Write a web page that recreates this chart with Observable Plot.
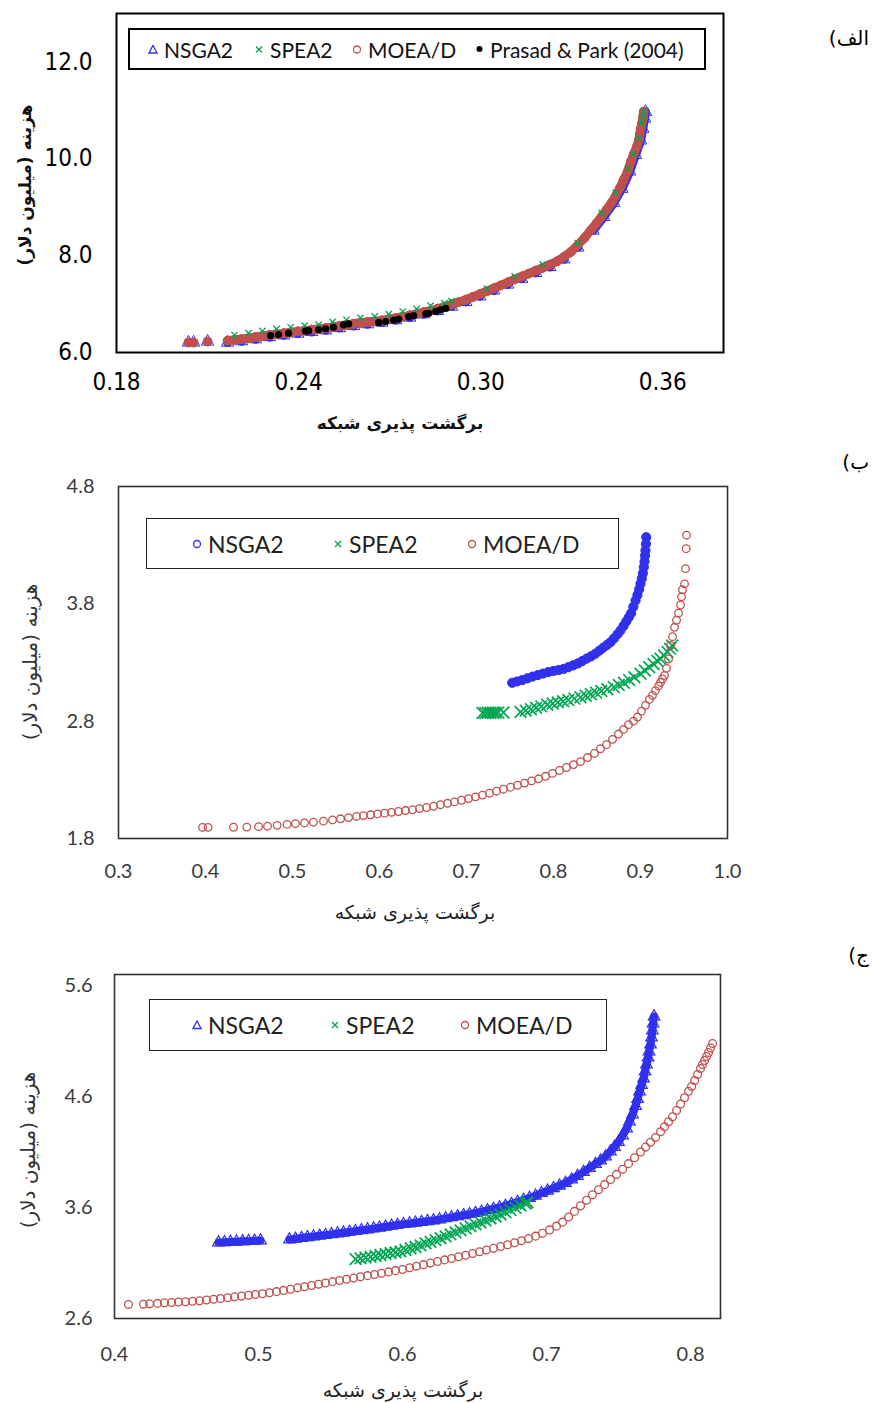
<!DOCTYPE html>
<html lang="fa">
<head>
<meta charset="utf-8">
<script src="https://cdn.jsdelivr.net/npm/d3@7"></script>
<script src="https://cdn.jsdelivr.net/npm/@observablehq/plot@0.6"></script>
<style>
  html, body { margin: 0; padding: 0; background: #fff; }
  #page { position: relative; width: 873px; height: 1403px; background: #fff; overflow: hidden; }
  .chart { position: absolute; left: 0; }
  .p1 g[aria-label="x-axis tick label"], .p1 g[aria-label="y-axis tick label"] {
    font-family: "Liberation Sans Narrow", "DejaVu Sans Condensed", "Roboto", sans-serif; font-size: 24px; fill: #000;
  }
  .p2 g[aria-label="x-axis tick label"], .p2 g[aria-label="y-axis tick label"],
  .p3 g[aria-label="x-axis tick label"], .p3 g[aria-label="y-axis tick label"] {
    font-family: "Lato", "Open Sans", sans-serif; font-size: 20px; fill: #3a3a3a;
  }
  .title { position: absolute; font-family: "DejaVu Sans", "Noto Sans", sans-serif; color: #111; white-space: nowrap; }
  .ytitle { transform: translate(-50%, -50%) rotate(-90deg); }
  .xtitle { transform: translate(-50%, -50%); }
  .plabel { position: absolute; font-family: "DejaVu Sans", sans-serif; font-size: 20px; color: #000; white-space: nowrap; transform: translateY(-50%); }
  .legend { position: absolute; box-sizing: border-box; background: #fff; }
  .item { position: absolute; top: 50%; transform: translateY(-50%); display: flex; align-items: center; white-space: nowrap; font-family: "Lato", "Open Sans", sans-serif; }
  .item svg { display: block; margin-right: 6px; }
</style>
</head>
<body>
<div id="page"></div>
<script>
// ---------------- DATA ----------------
// Panel (الف)
const p1XTicks = [0.18, 0.24, 0.30, 0.36];
const p1YTicks = [6, 8, 10, 12];
const p1NSGA2 = [[0.2037,6.206],[0.2054,6.206],[0.2100,6.226],[0.2166,6.205],[0.2212,6.232],[0.2258,6.274],[0.2304,6.317],[0.2351,6.354],[0.2397,6.391],[0.2443,6.424],[0.2489,6.459],[0.2535,6.504],[0.2581,6.547],[0.2627,6.584],[0.2674,6.617],[0.2720,6.668],[0.2766,6.722],[0.2812,6.790],[0.2858,6.859],[0.2904,6.948],[0.2951,7.044],[0.2997,7.160],[0.3043,7.281],[0.3089,7.404],[0.3135,7.523],[0.3181,7.643],[0.3228,7.765],[0.3274,7.925],[0.3320,8.170],[0.3370,8.520],[0.3405,8.800],[0.3438,9.090],[0.3465,9.380],[0.3491,9.740],[0.3510,10.080],[0.3527,10.380],[0.3534,10.620],[0.3540,10.830],[0.3543,10.970]];
const p1SPEA2 = [[0.2189,6.360],[0.2235,6.400],[0.2281,6.445],[0.2327,6.485],[0.2374,6.520],[0.2420,6.555],[0.2466,6.575],[0.2512,6.630],[0.2558,6.675],[0.2604,6.715],[0.2651,6.745],[0.2697,6.790],[0.2743,6.845],[0.2789,6.900],[0.2835,6.965],[0.2881,7.020],[0.2904,7.060],[0.3020,7.320],[0.3112,7.570],[0.3204,7.820],[0.3320,8.260],[0.3399,8.880],[0.3445,9.300],[0.3485,9.800],[0.3504,10.100],[0.3521,10.420],[0.3531,10.730],[0.3534,10.850],[0.3537,10.974]];
const p1MOEAD = [[0.2037,6.206],[0.2054,6.206],[0.2100,6.226],[0.2166,6.247],[0.2189,6.261],[0.2212,6.277],[0.2235,6.296],[0.2258,6.319],[0.2281,6.341],[0.2304,6.362],[0.2327,6.380],[0.2351,6.399],[0.2374,6.417],[0.2397,6.436],[0.2420,6.450],[0.2443,6.469],[0.2466,6.487],[0.2489,6.504],[0.2512,6.526],[0.2535,6.549],[0.2558,6.573],[0.2581,6.592],[0.2604,6.613],[0.2627,6.629],[0.2651,6.645],[0.2674,6.662],[0.2697,6.689],[0.2720,6.713],[0.2743,6.740],[0.2766,6.767],[0.2789,6.798],[0.2812,6.835],[0.2835,6.863],[0.2858,6.904],[0.2881,6.946],[0.2904,6.993],[0.2928,7.042],[0.2951,7.089],[0.2974,7.147],[0.2997,7.205],[0.3020,7.264],[0.3043,7.326],[0.3066,7.387],[0.3089,7.449],[0.3112,7.509],[0.3135,7.568],[0.3158,7.628],[0.3181,7.688],[0.3204,7.747],[0.3228,7.813],[0.3251,7.881],[0.3274,7.973],[0.3297,8.076],[0.3320,8.220],[0.3343,8.374],[0.3363,8.528],[0.3382,8.672],[0.3399,8.816],[0.3415,8.950],[0.3432,9.104],[0.3445,9.237],[0.3458,9.392],[0.3471,9.566],[0.3485,9.751],[0.3495,9.947],[0.3504,10.090],[0.3514,10.245],[0.3521,10.389],[0.3524,10.505],[0.3527,10.625],[0.3531,10.728],[0.3534,10.830],[0.3536,10.913],[0.3537,10.974]];
const p1Prasad = [[0.2308,6.35],[0.2334,6.37],[0.2367,6.40],[0.2423,6.44],[0.2433,6.45],[0.2466,6.47],[0.2489,6.49],[0.2515,6.52],[0.2548,6.57],[0.2565,6.59],[0.2664,6.62],[0.2687,6.64],[0.2713,6.67],[0.2730,6.69],[0.2763,6.74],[0.2779,6.76],[0.2819,6.80],[0.2829,6.81],[0.2852,6.85],[0.2868,6.88],[0.2885,6.91]];

// Panel (ب)
const p2XTicks = [0.3, 0.4, 0.5, 0.6, 0.7, 0.8, 0.9, 1.0];
const p2YTicks = [1.8, 2.8, 3.8, 4.8];
const p2NSGA2 = [[0.7525,3.127],[0.7580,3.138],[0.7640,3.150],[0.7700,3.165],[0.7760,3.180],[0.7820,3.193],[0.7880,3.206],[0.7940,3.219],[0.8000,3.228],[0.8060,3.236],[0.8118,3.246],[0.8170,3.260],[0.8225,3.275],[0.8280,3.292],[0.8330,3.312],[0.8380,3.333],[0.8430,3.352],[0.8480,3.374],[0.8525,3.400],[0.8570,3.425],[0.8615,3.450],[0.8655,3.473],[0.8695,3.505],[0.8735,3.540],[0.8770,3.573],[0.8805,3.612],[0.8837,3.650],[0.8866,3.686],[0.8892,3.720],[0.8918,3.775],[0.8943,3.828],[0.8965,3.875],[0.8985,3.925],[0.9000,3.971],[0.9015,4.015],[0.9027,4.060],[0.9038,4.112],[0.9046,4.160],[0.9052,4.210],[0.9057,4.255],[0.9062,4.310],[0.9066,4.368]];
const p2SPEA2 = [[0.7184,2.870],[0.7215,2.870],[0.7245,2.871],[0.7275,2.871],[0.7305,2.872],[0.7335,2.872],[0.7365,2.873],[0.7425,2.874],[0.7621,2.878],[0.7680,2.890],[0.7740,2.902],[0.7800,2.914],[0.7860,2.926],[0.7928,2.940],[0.7990,2.950],[0.8050,2.960],[0.8110,2.970],[0.8170,2.980],[0.8240,2.992],[0.8310,3.004],[0.8370,3.017],[0.8430,3.030],[0.8490,3.043],[0.8550,3.057],[0.8620,3.072],[0.8693,3.090],[0.8750,3.108],[0.8810,3.128],[0.8870,3.150],[0.8930,3.175],[0.9000,3.204],[0.9050,3.232],[0.9100,3.260],[0.9150,3.287],[0.9195,3.312],[0.9230,3.332],[0.9270,3.360],[0.9310,3.390],[0.9340,3.418],[0.9364,3.445]];
const p2MOEAD = [[0.3966,1.894],[0.4030,1.895],[0.4322,1.896],[0.4475,1.897],[0.4610,1.901],[0.4713,1.905],[0.4824,1.912],[0.4938,1.920],[0.5034,1.926],[0.5138,1.933],[0.5241,1.939],[0.5356,1.948],[0.5460,1.958],[0.5552,1.968],[0.5644,1.978],[0.5736,1.988],[0.5816,1.995],[0.5897,2.002],[0.5977,2.009],[0.6058,2.016],[0.6138,2.023],[0.6218,2.030],[0.6299,2.038],[0.6379,2.045],[0.6460,2.055],[0.6540,2.064],[0.6621,2.075],[0.6701,2.088],[0.6782,2.100],[0.6862,2.112],[0.6943,2.126],[0.7023,2.140],[0.7103,2.155],[0.7184,2.170],[0.7264,2.186],[0.7345,2.203],[0.7425,2.220],[0.7506,2.237],[0.7586,2.254],[0.7667,2.272],[0.7747,2.291],[0.7828,2.309],[0.7908,2.330],[0.7989,2.355],[0.8069,2.380],[0.8149,2.405],[0.8230,2.430],[0.8310,2.455],[0.8391,2.490],[0.8471,2.525],[0.8540,2.565],[0.8609,2.600],[0.8678,2.645],[0.8747,2.690],[0.8805,2.730],[0.8862,2.770],[0.8920,2.800],[0.8966,2.835],[0.9011,2.885],[0.9057,2.935],[0.9103,2.985],[0.9138,3.020],[0.9172,3.060],[0.9207,3.100],[0.9230,3.130],[0.9253,3.160],[0.9276,3.190],[0.9299,3.250],[0.9322,3.330],[0.9345,3.445],[0.9368,3.520],[0.9391,3.600],[0.9414,3.660],[0.9437,3.720],[0.9460,3.790],[0.9471,3.860],[0.9483,3.920],[0.9506,3.970],[0.9517,4.100],[0.9525,4.270],[0.9529,4.385]];

// Panel (ج)
const p3XTicks = [0.4, 0.5, 0.6, 0.7, 0.8];
const p3YTicks = [2.6, 3.6, 4.6, 5.6];
const p3NSGA2 = [[0.4722,3.285],[0.4764,3.287],[0.4806,3.290],[0.4847,3.292],[0.4889,3.295],[0.4931,3.297],[0.4972,3.300],[0.5014,3.303],
[0.5215,3.312],[0.5257,3.318],[0.5299,3.325],[0.5340,3.332],[0.5382,3.339],[0.5424,3.345],[0.5465,3.351],[0.5507,3.358],[0.5549,3.366],[0.5590,3.373],[0.5632,3.380],[0.5674,3.387],[0.5715,3.395],[0.5757,3.402],[0.5799,3.410],[0.5840,3.418],[0.5882,3.426],[0.5924,3.434],[0.5965,3.442],[0.6007,3.450],[0.6049,3.456],[0.6090,3.463],[0.6132,3.469],[0.6174,3.476],[0.6215,3.483],[0.6257,3.492],[0.6299,3.502],[0.6340,3.511],[0.6382,3.521],[0.6424,3.530],[0.6465,3.540],[0.6507,3.550],[0.6549,3.562],[0.6590,3.575],[0.6632,3.587],[0.6674,3.600],[0.6715,3.614],[0.6757,3.631],[0.6799,3.650],[0.6840,3.668],[0.6882,3.686],[0.6924,3.706],[0.6965,3.729],[0.7007,3.751],[0.7049,3.774],[0.7090,3.796],
[0.7132,3.821],[0.7174,3.852],[0.7215,3.884],[0.7257,3.920],[0.7299,3.956],[0.7340,3.992],[0.7375,4.023],[0.7410,4.059],[0.7444,4.105],[0.7472,4.145],[0.7500,4.190],[0.7528,4.249],[0.7556,4.312],[0.7576,4.375],[0.7597,4.438],[0.7618,4.514],[0.7632,4.577],[0.7646,4.645],[0.7660,4.704],[0.7674,4.762],[0.7684,4.825],[0.7694,4.888],[0.7705,4.951],[0.7712,5.005],[0.7722,5.068],[0.7729,5.132],[0.7735,5.195],[0.7740,5.258],[0.7747,5.321]];
const p3SPEA2 = [[0.5674,3.134],[0.5708,3.141],[0.5743,3.148],[0.5778,3.155],[0.5813,3.163],[0.5847,3.172],[0.5882,3.181],[0.5917,3.190],[0.5951,3.196],[0.5986,3.204],[0.6021,3.217],[0.6056,3.231],[0.6090,3.244],[0.6125,3.259],[0.6160,3.276],[0.6194,3.291],[0.6229,3.306],[0.6264,3.323],[0.6299,3.339],[0.6333,3.357],[0.6368,3.375],[0.6403,3.393],[0.6438,3.411],[0.6472,3.429],[0.6507,3.447],[0.6542,3.465],[0.6576,3.483],[0.6611,3.501],[0.6646,3.519],[0.6681,3.537],[0.6715,3.557],[0.6750,3.577],[0.6785,3.597],[0.6819,3.618],[0.6854,3.636],[0.6868,3.645]];
const p3MOEAD = [[0.4097,2.726],[0.4201,2.729],[0.4243,2.732],[0.4299,2.736],[0.4347,2.741],[0.4396,2.744],[0.4444,2.748],[0.4493,2.751],[0.4542,2.755],[0.4590,2.759],[0.4639,2.766],[0.4688,2.773],[0.4736,2.780],[0.4785,2.787],[0.4833,2.795],[0.4882,2.802],[0.4931,2.809],[0.4979,2.816],[0.5028,2.823],[0.5076,2.832],[0.5125,2.842],[0.5174,2.853],[0.5222,2.864],[0.5271,2.876],[0.5319,2.886],[0.5368,2.897],[0.5417,2.908],[0.5465,2.920],[0.5514,2.932],[0.5563,2.942],[0.5611,2.953],[0.5660,2.964],[0.5708,2.976],[0.5757,2.986],[0.5806,2.997],[0.5854,3.008],[0.5903,3.020],[0.5951,3.031],[0.6000,3.042],[0.6049,3.057],[0.6097,3.071],[0.6146,3.085],[0.6194,3.099],[0.6243,3.114],[0.6292,3.128],[0.6340,3.141],[0.6389,3.156],[0.6438,3.170],[0.6486,3.186],[0.6535,3.201],[0.6583,3.217],[0.6632,3.232],[0.6681,3.249],[0.6729,3.264],[0.6778,3.282],[0.6826,3.300],[0.6875,3.320],[0.6924,3.342],[0.6972,3.368],[0.7021,3.398],[0.7069,3.432],[0.7111,3.468],[0.7153,3.515],[0.7194,3.565],[0.7236,3.615],[0.7278,3.665],[0.7319,3.714],[0.7361,3.760],[0.7403,3.806],[0.7444,3.852],[0.7486,3.898],[0.7528,3.944],[0.7569,3.995],[0.7611,4.048],[0.7653,4.100],[0.7688,4.144],[0.7722,4.187],[0.7757,4.231],[0.7792,4.282],[0.7819,4.327],[0.7847,4.372],[0.7875,4.417],[0.7903,4.474],[0.7931,4.532],[0.7958,4.589],[0.7986,4.647],[0.8007,4.690],[0.8028,4.744],[0.8049,4.798],[0.8069,4.852],[0.8083,4.888],[0.8097,4.924],[0.8111,4.960],[0.8125,4.996],[0.8139,5.037],[0.8153,5.078]];

const seriesNames = ["NSGA2", "SPEA2", "MOEA/D", "Prasad & Park (2004)"];
const colors = { "NSGA2": "#3030ee", "SPEA2": "#00a651", "MOEA/D": "#c0504d", "Prasad & Park (2004)": "#000000" };
const xTitle = "برگشت پذیری شبکه";
const yTitle = "هزینه (میلیون دلار)";
const panelLabels = ["الف)", "ب)", "ج)"];

// ---------------- HELPERS ----------------
const rows = (arr) => arr.map(([x, y]) => ({ x, y }));
// split a sorted point list into runs wherever the x step jumps past maxGap (for dense-band underlay)
function runs(arr, maxGap) {
  let seg = 0;
  return arr.map(([x, y], i) => {
    if (i > 0 && x - arr[i - 1][0] > maxGap) seg++;
    return { x, y, seg };
  });
}
const page = document.getElementById("page");

function addChart(cls, top, plot) {
  const d = document.createElement("div");
  d.className = "chart " + cls;
  d.style.top = top + "px";
  d.appendChild(plot);
  page.appendChild(d);
}
function addDiv(cls, style, text, dir) {
  const d = document.createElement("div");
  d.className = cls;
  Object.assign(d.style, style);
  if (dir) d.dir = dir;
  d.textContent = text;
  page.appendChild(d);
  return d;
}
function symbolSvg(kind, color, s) {
  const h = s, c = s / 2;
  let inner = "";
  if (kind === "triangle") inner = `<path d="M${c} 1 L${s - 1} ${s - 1.5} L1 ${s - 1.5} Z" fill="none" stroke="${color}" stroke-width="1.3"/>`;
  if (kind === "times") inner = `<path d="M2 2 L${s - 2} ${s - 2} M${s - 2} 2 L2 ${s - 2}" stroke="${color}" stroke-width="1.3"/>`;
  if (kind === "circle") inner = `<circle cx="${c}" cy="${c}" r="${c - 1.5}" fill="none" stroke="${color}" stroke-width="1.3"/>`;
  if (kind === "dot") inner = `<circle cx="${c}" cy="${c}" r="${c - 1.5}" fill="${color}"/>`;
  return `<svg width="${s}" height="${h}" viewBox="0 0 ${s} ${h}">${inner}</svg>`;
}
function addLegend(box, items, fontSize, border) {
  const lg = document.createElement("div");
  lg.className = "legend";
  Object.assign(lg.style, { left: box[0] + "px", top: box[1] + "px", width: box[2] + "px", height: box[3] + "px", border: border });
  for (const it of items) {
    const s = document.createElement("div");
    s.className = "item";
    s.style.left = it.left + "px";
    s.style.fontSize = fontSize + "px";
    s.style.color = it.textColor || "#111";
    s.innerHTML = symbolSvg(it.kind, it.color, it.size) + `<span>${it.name}</span>`;
    lg.appendChild(s);
  }
  page.appendChild(lg);
}

// ---------------- PANEL 1 ----------------
addChart("p1", 0, Plot.plot({
  width: 760, height: 440,
  marginLeft: 116, marginRight: 37, marginTop: 13, marginBottom: 88,
  x: { domain: [0.18, 0.38], ticks: p1XTicks, tickFormat: ".2f", tickSize: 0, tickPadding: 20, label: null },
  y: { domain: [6, 13], ticks: p1YTicks, tickFormat: ".1f", tickSize: 0, tickPadding: 24, label: null },
  marks: [
    Plot.line(runs(p1NSGA2, 0.004), { x: "x", y: "y", z: "seg", stroke: colors["NSGA2"], strokeWidth: 9, strokeLinecap: "round", strokeLinejoin: "round" }),
    Plot.dot(rows(p1NSGA2), { x: "x", y: "y", symbol: "triangle", r: 4.6, stroke: colors["NSGA2"], fill: "none", strokeWidth: 1 }),
    Plot.line(runs(p1MOEAD, 0.004), { x: "x", y: "y", z: "seg", stroke: colors["MOEA/D"], strokeWidth: 9, strokeLinecap: "round", strokeLinejoin: "round" }),
    Plot.dot(rows(p1MOEAD), { x: "x", y: "y", symbol: "circle", r: 4.4, stroke: colors["MOEA/D"], fill: colors["MOEA/D"], strokeWidth: 1 }),
    Plot.dot(rows(p1SPEA2), { x: "x", y: "y", symbol: "times", r: 3, stroke: colors["SPEA2"], strokeWidth: 1.3 }),
    Plot.dot(rows(p1Prasad), { x: "x", y: "y", r: 3.6, fill: colors["Prasad & Park (2004)"], stroke: "none" }),
    Plot.frame({ stroke: "#000", strokeWidth: 2 })
  ]
}));

// ---------------- PANEL 2 ----------------
addChart("p2", 440, Plot.plot({
  width: 760, height: 490,
  marginLeft: 118, marginRight: 33, marginTop: 46, marginBottom: 92,
  x: { domain: [0.3, 1.0], ticks: p2XTicks, tickFormat: ".1f", tickSize: 0, tickPadding: 25, label: null },
  y: { domain: [1.8, 4.8], ticks: p2YTicks, tickFormat: ".1f", tickSize: 0, tickPadding: 24, label: null },
  marks: [
    Plot.dot(rows(p2NSGA2), { x: "x", y: "y", symbol: "circle", r: 4.6, stroke: colors["NSGA2"], fill: colors["NSGA2"], strokeWidth: 1 }),
    Plot.dot(rows(p2SPEA2), { x: "x", y: "y", symbol: "times", r: 5.4, stroke: colors["SPEA2"], strokeWidth: 1.7 }),
    Plot.dot(rows(p2MOEAD), { x: "x", y: "y", symbol: "circle", r: 3.8, stroke: colors["MOEA/D"], fill: "none", strokeWidth: 1.3 }),
    Plot.frame({ stroke: "#333", strokeWidth: 1.6 })
  ]
}));

// ---------------- PANEL 3 ----------------
addChart("p3", 930, Plot.plot({
  width: 760, height: 473,
  marginLeft: 114, marginRight: 40, marginTop: 44, marginBottom: 85,
  x: { domain: [0.4, 0.8208], ticks: p3XTicks, tickFormat: ".1f", tickSize: 0, tickPadding: 28, label: null },
  y: { domain: [2.6, 5.699], ticks: p3YTicks, tickFormat: ".1f", tickSize: 0, tickPadding: 22, label: null },
  marks: [
    Plot.line(runs(p3NSGA2, 0.01), { x: "x", y: "y", z: "seg", stroke: colors["NSGA2"], strokeWidth: 8, strokeLinecap: "round", strokeLinejoin: "round" }),
    Plot.dot(rows(p3NSGA2), { x: "x", y: "y", symbol: "triangle", r: 4.3, stroke: colors["NSGA2"], fill: "none", strokeWidth: 1.2 }),
    Plot.dot(rows(p3SPEA2), { x: "x", y: "y", symbol: "times", r: 5.3, stroke: colors["SPEA2"], strokeWidth: 1.8 }),
    Plot.dot(rows(p3MOEAD), { x: "x", y: "y", symbol: "circle", r: 3.9, stroke: colors["MOEA/D"], fill: "none", strokeWidth: 1.3 }),
    Plot.frame({ stroke: "#333", strokeWidth: 1.6 })
  ]
}));

// ---------------- TITLES ----------------
addDiv("title ytitle", { left: "25px", top: "185px", fontSize: "17px", fontWeight: "bold" }, yTitle, "rtl");
addDiv("title xtitle", { left: "400px", top: "423px", fontSize: "17px", fontWeight: "bold" }, xTitle, "rtl");
addDiv("title ytitle", { left: "30px", top: "662px", fontSize: "20px", color: "#333" }, yTitle, "rtl");
addDiv("title xtitle", { left: "415px", top: "912px", fontSize: "19px", color: "#222" }, xTitle, "rtl");
addDiv("title ytitle", { left: "28px", top: "1150px", fontSize: "20px", color: "#333" }, yTitle, "rtl");
addDiv("title xtitle", { left: "403px", top: "1390px", fontSize: "19px", color: "#222" }, xTitle, "rtl");

addDiv("plabel", { right: "4px", top: "38px" }, panelLabels[0], "rtl");
addDiv("plabel", { right: "4px", top: "462px" }, panelLabels[1], "rtl");
addDiv("plabel", { right: "4px", top: "955px" }, panelLabels[2], "rtl");

// ---------------- LEGENDS ----------------
addLegend([128, 28, 578, 42], [
  { kind: "triangle", color: colors["NSGA2"], size: 10, name: seriesNames[0], left: 18 },
  { kind: "times", color: colors["SPEA2"], size: 10, name: seriesNames[1], left: 124 },
  { kind: "circle", color: colors["MOEA/D"], size: 10, name: seriesNames[2], left: 222 },
  { kind: "dot", color: colors["Prasad & Park (2004)"], size: 9, name: seriesNames[3], left: 345 }
], 21, "2px solid #000");

addLegend([146, 518, 473, 51], [
  { kind: "circle", color: colors["NSGA2"], size: 10, name: seriesNames[0], left: 45, textColor: "#222" },
  { kind: "times", color: colors["SPEA2"], size: 10, name: seriesNames[1], left: 186, textColor: "#222" },
  { kind: "circle", color: colors["MOEA/D"], size: 10, name: seriesNames[2], left: 320, textColor: "#222" }
], 23, "1.6px solid #222");

addLegend([149, 999, 458, 52], [
  { kind: "triangle", color: colors["NSGA2"], size: 10, name: seriesNames[0], left: 42, textColor: "#222" },
  { kind: "times", color: colors["SPEA2"], size: 10, name: seriesNames[1], left: 180, textColor: "#222" },
  { kind: "circle", color: colors["MOEA/D"], size: 10, name: seriesNames[2], left: 310, textColor: "#222" }
], 23, "1.6px solid #222");
</script>
</body>
</html>
